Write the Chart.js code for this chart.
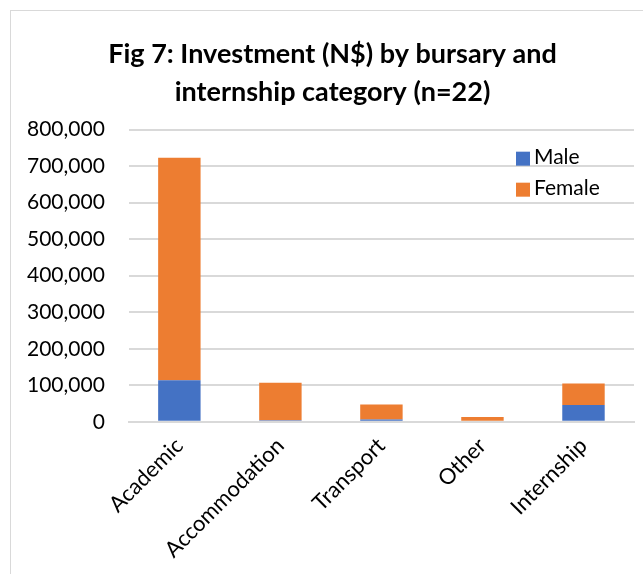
<!DOCTYPE html>
<html>
<head>
<meta charset="utf-8">
<script src="https://cdn.jsdelivr.net/npm/chart.js@4/dist/chart.umd.min.js"></script>
<style>
  body { margin: 0; background: #fff; }
  #frame { position: absolute; left: 10px; top: 10px; width: 640px; height: 580px; border: 1px solid #d9d9d9; box-sizing: border-box; }
  #wrap { position: absolute; left: 0; top: 0; width: 643px; height: 574px; }
</style>
</head>
<body>
<div id="frame"></div>
<div id="wrap"><canvas id="c"></canvas></div>
<script>
const categories = ['Academic', 'Accommodation', 'Transport', 'Other', 'Internship'];
const maleValues = [114000, 4000, 6000, 0, 46000];
const femaleValues = [609000, 103000, 41000, 13000, 59000];
const yTicks = [0, 100000, 200000, 300000, 400000, 500000, 600000, 700000, 800000];

const FONT = 'Lato, "Open Sans", sans-serif';

// legend drawn inside plot area (top right), like the original
const innerLegend = {
  id: 'innerLegend',
  afterLayout(chart) {
    // title in the original sits a bit right of the canvas centre
    if (chart.titleBlock) chart.titleBlock.left += 28;
  },
  afterDraw(chart) {
    const c = chart.ctx;
    const area = chart.chartArea;
    const x = area.right - 118;
    let y = area.top + 28;
    c.save();
    c.font = '21px ' + FONT;
    c.textBaseline = 'middle';
    chart.data.datasets.forEach(ds => {
      c.fillStyle = ds.backgroundColor;
      c.fillRect(x, y - 6, 14, 14);
      c.fillStyle = '#000';
      c.fillText(ds.label, x + 18, y);
      y += 31;
    });
    c.restore();
  }
};

const chart = new Chart(document.getElementById('c'), {
  type: 'bar',
  data: {
    labels: categories,
    datasets: [
      { label: 'Male', data: maleValues, backgroundColor: '#4472c4' },
      { label: 'Female', data: femaleValues, backgroundColor: '#ed7d31' }
    ]
  },
  options: {
    responsive: true,
    maintainAspectRatio: false,
    animation: false,
    layout: { padding: { left: 3, right: 9, top: 35, bottom: 8 } },
    datasets: { bar: { categoryPercentage: 1, barPercentage: 0.42 } },
    plugins: {
      legend: { display: false },
      tooltip: { enabled: false },
      title: {
        display: true,
        text: ['Fig 7: Investment (N$) by bursary and', 'internship category (n=22)'],
        color: '#000',
        font: { family: FONT, size: 27, weight: 'bold', lineHeight: 1.42 },
        padding: { top: 0, bottom: 18 }
      }
    },
    scales: {
      x: {
        stacked: true,
        grid: { display: false },
        border: { color: '#d9d9d9', width: 2 },
        ticks: {
          color: '#000',
          font: { family: FONT, size: 22 },
          minRotation: 45,
          maxRotation: 45
        }
      },
      y: {
        stacked: true,
        min: 0,
        max: 800000,
        afterBuildTicks: axis => { axis.ticks = yTicks.map(v => ({ value: v })); },
        grid: { color: '#d9d9d9', lineWidth: 2, drawTicks: false },
        border: { display: false },
        ticks: {
          color: '#000',
          font: { family: FONT, size: 21 },
          padding: 24,
          callback: v => v.toLocaleString('en-US')
        }
      }
    }
  },
  plugins: [innerLegend]
});
</script>
</body>
</html>
